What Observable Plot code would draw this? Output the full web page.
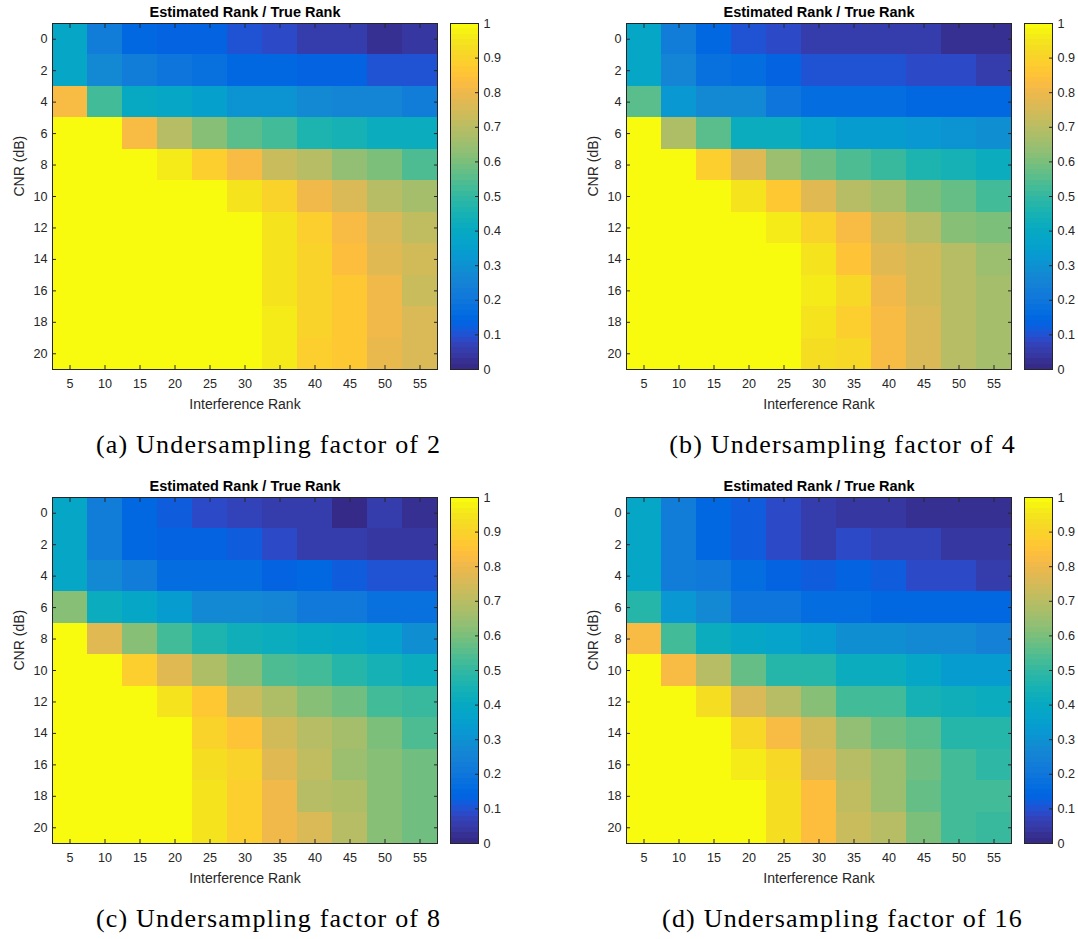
<!DOCTYPE html>
<html><head><meta charset="utf-8">
<script src="https://cdn.jsdelivr.net/npm/d3@7"></script>
<script src="https://cdn.jsdelivr.net/npm/@observablehq/plot@0.6"></script>
<style>
html,body{margin:0;padding:0;background:#fff;}
body{width:1078px;height:939px;overflow:hidden;position:relative;}
.abs{position:absolute;}
.cap{position:absolute;font-family:"Liberation Serif","Times New Roman",serif;font-size:26px;line-height:26px;letter-spacing:1.2px;color:#000;white-space:nowrap;transform:translateX(-50%);}
</style></head>
<body>
<script>
// ---------------- data ----------------
const interferenceRank = [5, 10, 15, 20, 25, 30, 35, 40, 45, 50, 55];
const cnrDb = [0, 2, 4, 6, 8, 10, 12, 14, 16, 18, 20];
const colorbarTicks = [0, 0.1, 0.2, 0.3, 0.4, 0.5, 0.6, 0.7, 0.8, 0.9, 1];
const panelTitle = "Estimated Rank / True Rank";
const xLabel = "Interference Rank";
const yLabel = "CNR (dB)";
const captions = ["(a) Undersampling factor of 2", "(b) Undersampling factor of 4",
                  "(c) Undersampling factor of 8", "(d) Undersampling factor of 16"];

// rows = CNR 0..20 dB, columns = interference rank 5..55
const ratioUS2 = [
  [0.38,0.22,0.15,0.13,0.13,0.10,0.08,0.06,0.06,0.03,0.035],
  [0.38,0.27,0.22,0.20,0.18,0.15,0.15,0.14,0.13,0.10,0.10],
  [0.82,0.52,0.40,0.38,0.35,0.30,0.30,0.27,0.25,0.25,0.22],
  [1,1,0.82,0.70,0.62,0.56,0.52,0.46,0.44,0.41,0.41],
  [1,1,1,0.96,0.88,0.82,0.73,0.70,0.63,0.60,0.54],
  [1,1,1,1,1,0.95,0.90,0.80,0.76,0.70,0.66],
  [1,1,1,1,1,1,0.94,0.89,0.82,0.76,0.71],
  [1,1,1,1,1,1,0.94,0.90,0.83,0.78,0.74],
  [1,1,1,1,1,1,0.94,0.90,0.87,0.80,0.73],
  [1,1,1,1,1,1,0.96,0.90,0.87,0.81,0.75],
  [1,1,1,1,1,1,0.96,0.89,0.87,0.79,0.76]
];
const ratioUS4 = [
  [0.38,0.22,0.15,0.10,0.08,0.055,0.055,0.055,0.055,0.025,0.03],
  [0.38,0.25,0.18,0.17,0.14,0.10,0.10,0.10,0.08,0.08,0.05],
  [0.55,0.32,0.28,0.28,0.20,0.17,0.16,0.16,0.15,0.15,0.15],
  [1,0.68,0.55,0.42,0.42,0.37,0.34,0.34,0.32,0.30,0.29],
  [1,1,0.88,0.77,0.65,0.58,0.54,0.50,0.46,0.44,0.41],
  [1,1,1,0.95,0.87,0.78,0.70,0.66,0.60,0.57,0.53],
  [1,1,1,1,0.96,0.90,0.82,0.74,0.70,0.61,0.60],
  [1,1,1,1,1,0.94,0.85,0.78,0.74,0.69,0.65],
  [1,1,1,1,1,0.96,0.91,0.80,0.74,0.70,0.67],
  [1,1,1,1,1,0.95,0.88,0.82,0.76,0.70,0.66],
  [1,1,1,1,1,0.93,0.91,0.82,0.76,0.70,0.66]
];
const ratioUS8 = [
  [0.38,0.22,0.15,0.11,0.08,0.07,0.05,0.05,0.01,0.05,0.025],
  [0.38,0.22,0.15,0.13,0.13,0.11,0.08,0.06,0.06,0.04,0.04],
  [0.38,0.28,0.22,0.16,0.17,0.16,0.14,0.15,0.12,0.10,0.10],
  [0.61,0.42,0.38,0.34,0.28,0.28,0.26,0.21,0.21,0.18,0.18],
  [1,0.77,0.61,0.52,0.46,0.43,0.41,0.40,0.38,0.35,0.29],
  [1,1,0.89,0.77,0.68,0.61,0.54,0.53,0.47,0.45,0.41],
  [1,1,1,0.94,0.86,0.73,0.68,0.61,0.58,0.53,0.51],
  [1,1,1,1,0.90,0.85,0.74,0.70,0.66,0.60,0.54],
  [1,1,1,1,0.93,0.90,0.77,0.71,0.65,0.62,0.58],
  [1,1,1,1,0.95,0.88,0.80,0.70,0.68,0.62,0.58],
  [1,1,1,1,0.95,0.88,0.80,0.76,0.69,0.61,0.58]
];
const ratioUS16 = [
  [0.38,0.22,0.15,0.11,0.08,0.06,0.04,0.04,0.02,0.02,0.02],
  [0.38,0.22,0.15,0.11,0.08,0.06,0.08,0.07,0.07,0.04,0.04],
  [0.38,0.22,0.21,0.16,0.14,0.11,0.13,0.11,0.08,0.08,0.06],
  [0.47,0.32,0.28,0.20,0.20,0.16,0.16,0.15,0.15,0.15,0.15],
  [0.82,0.52,0.42,0.39,0.36,0.33,0.29,0.29,0.28,0.28,0.24],
  [1,0.82,0.69,0.57,0.48,0.47,0.41,0.41,0.38,0.33,0.33],
  [1,1,0.93,0.76,0.70,0.61,0.53,0.52,0.45,0.43,0.41],
  [1,1,1,0.91,0.82,0.74,0.63,0.58,0.55,0.48,0.47],
  [1,1,1,0.96,0.91,0.78,0.70,0.65,0.58,0.53,0.49],
  [1,1,1,1,0.93,0.84,0.71,0.65,0.57,0.53,0.52],
  [1,1,1,1,0.93,0.84,0.73,0.69,0.60,0.53,0.51]
];
const panels = [ratioUS2, ratioUS4, ratioUS8, ratioUS16];

// MATLAB parula colormap (64 levels)
const parulaRGB = [
[0.2081,0.1663,0.5292],[0.2116,0.1898,0.5777],[0.2123,0.2138,0.6270],[0.2081,0.2386,0.6771],
[0.1959,0.2645,0.7279],[0.1707,0.2919,0.7792],[0.1253,0.3242,0.8303],[0.0591,0.3598,0.8683],
[0.0117,0.3875,0.8820],[0.0060,0.4086,0.8828],[0.0165,0.4266,0.8786],[0.0329,0.4430,0.8720],
[0.0498,0.4586,0.8641],[0.0629,0.4737,0.8554],[0.0723,0.4887,0.8467],[0.0779,0.5040,0.8384],
[0.0793,0.5200,0.8312],[0.0749,0.5375,0.8263],[0.0641,0.5570,0.8240],[0.0488,0.5772,0.8228],
[0.0343,0.5966,0.8199],[0.0265,0.6137,0.8135],[0.0239,0.6287,0.8038],[0.0231,0.6418,0.7913],
[0.0228,0.6535,0.7768],[0.0267,0.6642,0.7607],[0.0384,0.6743,0.7436],[0.0590,0.6838,0.7254],
[0.0843,0.6928,0.7062],[0.1133,0.7015,0.6859],[0.1453,0.7098,0.6646],[0.1801,0.7177,0.6424],
[0.2178,0.7250,0.6193],[0.2586,0.7317,0.5954],[0.3022,0.7376,0.5712],[0.3482,0.7424,0.5473],
[0.3953,0.7459,0.5244],[0.4420,0.7481,0.5033],[0.4871,0.7491,0.4840],[0.5300,0.7491,0.4661],
[0.5709,0.7485,0.4494],[0.6099,0.7473,0.4337],[0.6473,0.7456,0.4188],[0.6834,0.7435,0.4044],
[0.7184,0.7411,0.3905],[0.7525,0.7384,0.3768],[0.7858,0.7356,0.3633],[0.8185,0.7327,0.3498],
[0.8507,0.7299,0.3360],[0.8824,0.7274,0.3217],[0.9139,0.7258,0.3063],[0.9450,0.7261,0.2886],
[0.9739,0.7314,0.2666],[0.9938,0.7455,0.2403],[0.9990,0.7653,0.2164],[0.9955,0.7861,0.1967],
[0.9880,0.8066,0.1794],[0.9789,0.8271,0.1633],[0.9697,0.8481,0.1475],[0.9626,0.8705,0.1309],
[0.9589,0.8949,0.1132],[0.9598,0.9218,0.0948],[0.9661,0.9514,0.0755],[0.9763,0.9831,0.0538]
];
const parula = parulaRGB.map(([r,g,b]) => d3.rgb(r*255, g*255, b*255).formatHex());
const parulaInterp = t => parula[Math.max(0, Math.min(63, Math.floor(t * 64)))];

// ---------------- layout ----------------
const INK = "#262626";
const FONT = "'Liberation Sans', Arial, Helvetica, sans-serif";
const panelX = [0, 574, 0, 574];
const panelY = [0, 0, 474, 474];
const W = 540, H = 420, ML = 52, MR = 103, MT = 23, MB = 51;

function colorScale() {
  return {type: "linear", domain: [0, 1], interpolate: parulaInterp};
}

function heatmap(values) {
  const cells = [];
  cnrDb.forEach((c, i) => interferenceRank.forEach((r, j) => cells.push({cnr: c, rank: r, value: values[i][j]})));
  return Plot.plot({
    width: W, height: H,
    marginLeft: ML, marginRight: MR, marginTop: MT, marginBottom: MB,
    style: {fontFamily: FONT, fontSize: "12.6px", color: INK, background: "transparent", overflow: "visible"},
    x: {type: "linear", domain: [2.5, 57.5], label: null},
    y: {type: "linear", domain: [21, -1], label: null},
    color: colorScale(),
    marks: [
      Plot.rect(cells, {
        x1: d => d.rank - 2.5, x2: d => d.rank + 2.5,
        y1: d => d.cnr - 1, y2: d => d.cnr + 1,
        fill: "value", shapeRendering: "crispEdges"
      }),
      Plot.frame({stroke: INK, strokeWidth: 1}),
      Plot.axisX(interferenceRank, {anchor: "bottom", tickSize: -4, tickPadding: 14, stroke: INK, fill: INK, label: null}),
      Plot.axisX(interferenceRank, {anchor: "top", tickSize: -4, tickFormat: () => "", stroke: INK, label: null}),
      Plot.axisY(cnrDb, {anchor: "left", tickSize: -4, tickPadding: 9, stroke: INK, fill: INK, label: null}),
      Plot.axisY(cnrDb, {anchor: "right", tickSize: -4, tickFormat: () => "", stroke: INK, label: null}),
      Plot.text([panelTitle], {frameAnchor: "top", lineAnchor: "middle", dy: -11.5, fontWeight: "bold", fontSize: 14.5, fill: "#000"}),
      Plot.text([xLabel], {frameAnchor: "bottom", lineAnchor: "middle", dy: 35, fontSize: 14, fill: INK}),
      Plot.text([yLabel], {frameAnchor: "left", lineAnchor: "middle", dx: -33, rotate: -90, fontSize: 14, fill: INK})
    ]
  });
}

function colorbar() {
  const levels = d3.range(64);
  return Plot.plot({
    width: 28 + 40, height: H,
    marginLeft: 0, marginRight: 40, marginTop: MT, marginBottom: MB,
    style: {fontFamily: FONT, fontSize: "12.6px", color: INK, background: "transparent", overflow: "visible"},
    x: {domain: [0, 1], axis: null},
    y: {domain: [0, 1], label: null},
    color: colorScale(),
    marks: [
      Plot.rect(levels, {x1: 0, x2: 1, y1: i => i / 64, y2: i => (i + 1) / 64, fill: i => (i + 0.5) / 64, shapeRendering: "crispEdges"}),
      Plot.frame({stroke: INK, strokeWidth: 1}),
      Plot.axisY(colorbarTicks, {anchor: "right", tickSize: -4, tickPadding: 9, stroke: INK, fill: INK, tickFormat: d => String(d), label: null})
    ]
  });
}

panels.forEach((vals, k) => {
  const hm = heatmap(vals);
  hm.classList.add("abs");
  hm.style.left = panelX[k] + "px";
  hm.style.top = panelY[k] + "px";
  document.body.appendChild(hm);

  const cb = colorbar();
  cb.classList.add("abs");
  cb.style.left = (panelX[k] + 450) + "px";
  cb.style.top = panelY[k] + "px";
  document.body.appendChild(cb);

  const cap = document.createElement("div");
  cap.className = "cap";
  cap.textContent = captions[k];
  cap.style.left = (panelX[k] + 268.5) + "px";
  cap.style.top = (panelY[k] + 432) + "px";
  document.body.appendChild(cap);
});
</script>
</body></html>
